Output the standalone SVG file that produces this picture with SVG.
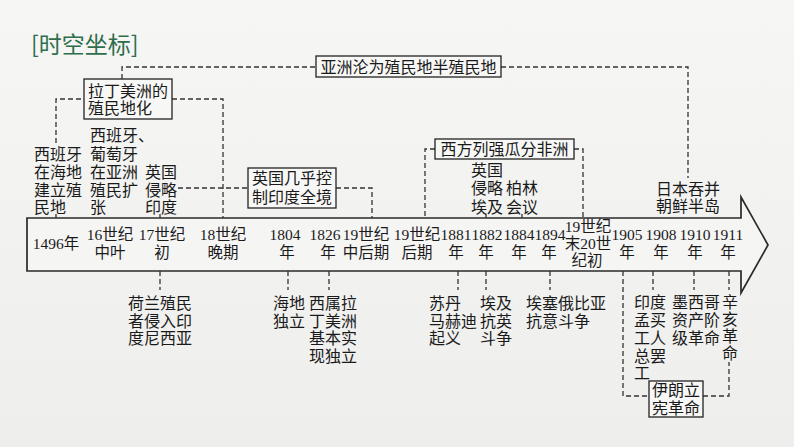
<svg xmlns="http://www.w3.org/2000/svg" width="794" height="447" viewBox="0 0 794 447">
<defs>
<linearGradient id="bg" x1="0" y1="0" x2="0" y2="1">
<stop offset="0" stop-color="#f6f6f5"/>
<stop offset="1" stop-color="#eeeeed"/>
</linearGradient>
</defs>
<style>
.t{font-family:"Liberation Serif","Noto Sans CJK SC",serif;font-size:16px;fill:#1a1a1a}
.b{font-family:"Liberation Serif","Noto Sans CJK SC",serif;font-size:15.5px;fill:#1a1a1a;text-anchor:middle}
.box{fill:#f7f7f6;stroke:#222;stroke-width:1.3}
.d{fill:none;stroke:#333;stroke-width:1.3;stroke-dasharray:5 3}
.s{fill:none;stroke:#333;stroke-width:1.3}
</style>
<rect x="0" y="0" width="794" height="447" fill="url(#bg)"/>
<text x="31" y="53" font-family="'Noto Sans CJK SC',sans-serif" font-size="23" fill="#2f6e4c">[时空坐标]</text>

<g id="timeline">
<path d="M27,218 H741 V197 L768,245 L741,293 V271 H27 Z" fill="#f5f5f4" stroke="#2a2a2a" stroke-width="1.7"/>
<text class="b" x="56" y="249">1496年</text>
<text class="b"><tspan x="110" y="240">16世纪</tspan><tspan x="110" y="258">中叶</tspan></text>
<text class="b"><tspan x="162" y="240">17世纪</tspan><tspan x="162" y="258">初</tspan></text>
<text class="b"><tspan x="223" y="240">18世纪</tspan><tspan x="223" y="258">晚期</tspan></text>
<text class="b"><tspan x="285" y="240">1804</tspan><tspan x="287" y="258">年</tspan></text>
<text class="b"><tspan x="325" y="240">1826</tspan><tspan x="328" y="258">年</tspan></text>
<text class="b"><tspan x="366" y="240">19世纪</tspan><tspan x="366" y="258">中后期</tspan></text>
<text class="b"><tspan x="417" y="240">19世纪</tspan><tspan x="417" y="258">后期</tspan></text>
<text class="b"><tspan x="456" y="240">1881</tspan><tspan x="456" y="258">年</tspan></text>
<text class="b"><tspan x="487" y="240">1882</tspan><tspan x="486" y="258">年</tspan></text>
<text class="b"><tspan x="519" y="240">1884</tspan><tspan x="519" y="258">年</tspan></text>
<text class="b"><tspan x="550" y="240">1894</tspan><tspan x="549" y="258">年</tspan></text>
<text class="b"><tspan x="588" y="232">19世纪</tspan><tspan x="588" y="249">末20世</tspan><tspan x="587" y="266">纪初</tspan></text>
<text class="b"><tspan x="627" y="240">1905</tspan><tspan x="627" y="258">年</tspan></text>
<text class="b"><tspan x="661" y="240">1908</tspan><tspan x="661" y="258">年</tspan></text>
<text class="b"><tspan x="695" y="240">1910</tspan><tspan x="695" y="258">年</tspan></text>
<text class="b"><tspan x="728" y="240">1911</tspan><tspan x="728" y="258">年</tspan></text>
</g>

<g id="connectors">
<path class="d" d="M56,143 V99 H84"/>
<path class="d" d="M172,99 H223 V218"/>
<path class="d" d="M122,79 V67 H316"/>
<path class="d" d="M501,67 H688 V178"/>
<path class="d" d="M178,188 H248"/>
<path class="d" d="M336,188 H372 V218"/>
<path class="d" d="M435,149 H425 V218"/>
<path class="d" d="M574,149 H583 V218"/>
<path class="s" d="M56,214 V218 M160,214 V218 M486,214 V218 M522,214 V218"/>
<path class="d" d="M160,271 V290 M288,271 V290 M329,271 V290 M458,271 V290 M486,271 V290 M550,271 V290 M653,271 V290 M694,271 V290 M729,271 V290"/>
<path class="d" d="M623,271 V396 H649"/>
<path class="d" d="M703,396 H729 V362"/>
</g>

<g id="n-latin-box">
<rect class="box" x="84" y="79" width="88" height="40"/>
<text class="t"><tspan x="88" y="97">拉丁美洲的</tspan><tspan x="88" y="114">殖民地化</tspan></text>
</g>
<g id="n-asia-box">
<rect class="box" x="316" y="56" width="185" height="21"/>
<text class="t" x="408.5" y="73" text-anchor="middle">亚洲沦为殖民地半殖民地</text>
</g>
<g id="n-india-box">
<rect class="box" x="248" y="168" width="88" height="40"/>
<text class="t"><tspan x="252" y="184">英国几乎控</tspan><tspan x="252" y="203">制印度全境</tspan></text>
</g>
<g id="n-africa-box">
<rect class="box" x="435" y="139" width="139" height="20"/>
<text class="t" x="504.5" y="155" text-anchor="middle">西方列强瓜分非洲</text>
</g>
<g id="n-iran-box">
<rect class="box" x="649" y="381" width="54" height="36"/>
<text class="t"><tspan x="652" y="396">伊朗立</tspan><tspan x="652" y="414">宪革命</tspan></text>
</g>

<g id="n-haiti-spain">
<text class="t"><tspan x="34" y="160">西班牙</tspan><tspan x="34" y="178">在海地</tspan><tspan x="34" y="196">建立殖</tspan><tspan x="34" y="213">民地</tspan></text>
</g>
<g id="n-spain-portugal">
<text class="t"><tspan x="90" y="141">西班牙、</tspan><tspan x="90" y="160">葡萄牙</tspan><tspan x="90" y="178">在亚洲</tspan><tspan x="90" y="196">殖民扩</tspan><tspan x="90" y="213">张</tspan></text>
</g>
<g id="n-uk-india">
<text class="t"><tspan x="145" y="178">英国</tspan><tspan x="145" y="196">侵略</tspan><tspan x="145" y="213">印度</tspan></text>
</g>
<g id="n-uk-egypt">
<text class="t"><tspan x="471" y="176">英国</tspan><tspan x="471" y="194">侵略</tspan><tspan x="471" y="213">埃及</tspan></text>
</g>
<g id="n-berlin">
<text class="t"><tspan x="506" y="194">柏林</tspan><tspan x="506" y="213">会议</tspan></text>
</g>
<g id="n-japan-korea">
<text class="t" text-anchor="middle"><tspan x="688" y="195">日本吞并</tspan><tspan x="688" y="212">朝鲜半岛</tspan></text>
</g>

<g id="n-dutch">
<text class="t"><tspan x="128" y="309">荷兰殖民</tspan><tspan x="128" y="327">者侵入印</tspan><tspan x="128" y="344">度尼西亚</tspan></text>
</g>
<g id="n-haiti-ind">
<text class="t"><tspan x="273" y="309">海地</tspan><tspan x="273" y="327">独立</tspan></text>
</g>
<g id="n-latam-ind">
<text class="t"><tspan x="309" y="309">西属拉</tspan><tspan x="309" y="327">丁美洲</tspan><tspan x="309" y="344">基本实</tspan><tspan x="309" y="362">现独立</tspan></text>
</g>
<g id="n-sudan">
<text class="t"><tspan x="429" y="309">苏丹</tspan><tspan x="429" y="327">马赫迪</tspan><tspan x="429" y="344">起义</tspan></text>
</g>
<g id="n-egypt">
<text class="t"><tspan x="480" y="309">埃及</tspan><tspan x="480" y="327">抗英</tspan><tspan x="480" y="344">斗争</tspan></text>
</g>
<g id="n-ethiopia">
<text class="t"><tspan x="526" y="309">埃塞俄比亚</tspan><tspan x="526" y="327">抗意斗争</tspan></text>
</g>
<g id="n-bombay">
<text class="t"><tspan x="634" y="308">印度</tspan><tspan x="634" y="326">孟买</tspan><tspan x="634" y="344">工人</tspan><tspan x="634" y="362">总罢</tspan><tspan x="634" y="379">工</tspan></text>
</g>
<g id="n-mexico">
<text class="t"><tspan x="672" y="308">墨西哥</tspan><tspan x="672" y="326">资产阶</tspan><tspan x="672" y="344">级革命</tspan></text>
</g>
<g id="n-xinhai">
<text class="t" text-anchor="middle"><tspan x="730" y="308">辛</tspan><tspan x="730" y="325">亥</tspan><tspan x="730" y="342">革</tspan><tspan x="730" y="359">命</tspan></text>
</g>
</svg>
